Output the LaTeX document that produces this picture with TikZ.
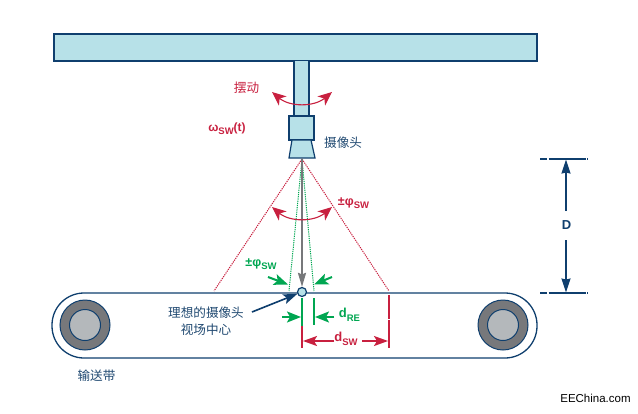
\documentclass[tikz,border=0pt]{standalone}
\usepackage{fontspec}
\setmainfont{Liberation Sans}
\newfontfamily\cjkfont{Noto Sans CJK SC}
\usepackage{xcolor}
\usetikzlibrary{arrows.meta,positioning,calc}
\definecolor{navyline}{HTML}{0F3F6E}
\definecolor{paleblue}{HTML}{B7E1E8}
\definecolor{swingred}{HTML}{C8203F}
\definecolor{fovgreen}{HTML}{00A651}
\definecolor{rollergray}{HTML}{77787B}
\definecolor{hubgray}{HTML}{B4B8BB}
\newcommand{\lowtext}[1]{\raisebox{-0.5ex}{\fontsize{9.5}{10}\selectfont #1}}

\begin{document}
\begin{tikzpicture}[
    x=1pt, y=-1pt,
    part/.style={rectangle, draw=navyline, fill=paleblue, line width=1.6pt, inner sep=0pt},
    roller/.style={circle, draw=navyline, fill=rollergray, line width=1pt, minimum size=50pt, inner sep=0pt},
    hub/.style={circle, draw=navyline, fill=hubgray, line width=1pt, minimum size=31pt, inner sep=0pt},
    cjklabel/.style={font=\cjkfont\fontsize{12.6}{17}\selectfont, text=navyline!85!gray, align=center, inner sep=0pt},
    redlabel/.style={font=\bfseries\fontsize{12}{14}\selectfont, text=swingred, inner sep=0pt},
    greenlabel/.style={font=\bfseries\fontsize{12}{14}\selectfont, text=fovgreen, inner sep=0pt},
    redarrow/.style={-{Stealth[length=14pt,width=10pt,inset=3pt]}, draw=swingred, fill=swingred, line width=1.8pt},
    greenarrow/.style={-{Stealth[length=14pt,width=11pt,inset=3pt]}, draw=fovgreen, fill=fovgreen, line width=2pt},
    swing/.style={{Stealth[length=14pt,width=12pt,inset=4pt]}-{Stealth[length=14pt,width=12pt,inset=4pt]}, draw=swingred, line width=1.1pt},
    reddots/.style={draw=swingred, line width=1pt, dash pattern=on 1.2pt off 1pt},
    greendots/.style={draw=fovgreen, line width=1pt, dash pattern=on 1.2pt off 1pt},
    tick/.style={line width=2pt},
    refline/.style={draw=navyline, line width=1.5pt, dash pattern=on 7pt off 1.5pt on 37pt off 1.5pt on 1pt off 0pt},
    distarrow/.style={-{Stealth[length=14pt,width=9pt,inset=1pt]}, draw=navyline, fill=navyline, line width=1.4pt}
]
    \useasboundingbox (0,0) rectangle (638,413);

    % Overhead beam and camera
    \node[part, minimum width=483pt, minimum height=27pt] (beam) at (295.5,47.5) {};
    \node[part, minimum width=15pt, minimum height=56pt] (column) at (301.5,88.5) {};
    \node[part, minimum width=25pt, minimum height=24pt] (body) at (301.5,128) {};
    \coordinate (lensA) at (292,140);
    \coordinate (lensB) at (311,140);
    \coordinate (lensC) at (315,158);
    \coordinate (lensD) at (289,158);
    \draw[draw=navyline, fill=paleblue, line width=1.2pt] (lensA) -- (lensB) -- (lensC) -- (lensD) -- cycle;
    \coordinate (apex) at (302,159);

    % Conveyor belt
    \node[rectangle, rounded corners=32pt, draw=navyline, line width=1.3pt, fill=white,
        minimum width=485pt, minimum height=65pt] (belt) at (294.5,325.5) {};
    \node[roller] (rollerL) at (85,325) {};
    \node[hub] (hubL) at (85,325) {};
    \node[roller] (rollerR) at (503,325) {};
    \node[hub] (hubR) at (503,325) {};

    % Field of view
    \coordinate (redL) at (214,291);
    \coordinate (redR) at (389,291);
    \coordinate (greenL) at (289,291);
    \coordinate (greenR) at (314,291);
    \draw[reddots] (apex) -- (redL);
    \draw[reddots] (apex) -- (redR);
    \draw[greendots] (apex) -- (greenL);
    \draw[greendots] (apex) -- (greenR);
    \node[circle, draw=navyline, fill=paleblue, line width=1.2pt, minimum size=9pt, inner sep=0pt] (spot) at (302,292) {};
    \draw[-{Stealth[length=14pt,width=8pt,inset=1.5pt]}, draw=rollergray, fill=rollergray, line width=2pt] (apex) -- (spot);

    % Swing arrows
    \coordinate (swingAL) at (272,92);
    \coordinate (swingAR) at (332,92);
    \coordinate (swingBL) at (272,207);
    \coordinate (swingBR) at (332,207);
    \draw[swing] (swingAL) to[bend right=40] (swingAR);
    \draw[swing] (swingBL) to[bend right=40] (swingBR);

    % Offset marks
    \coordinate (tickA) at (302,298);
    \coordinate (tickB) at (302,326);
    \coordinate (tickC) at (302,348);
    \coordinate (tickD) at (314,298);
    \coordinate (tickE) at (314,325);
    \coordinate (tickF) at (389,295);
    \coordinate (tickG) at (389,348);
    \draw[tick, draw=fovgreen] (tickA) -- (tickB);
    \draw[tick, draw=swingred] (tickB) -- (tickC);
    \draw[tick, draw=fovgreen] (tickD) -- (tickE);
    \draw[tick, draw=swingred, dash pattern=on 24pt off 1pt on 50pt] (tickF) -- (tickG);

    % Labels
    \node[redlabel, font=\cjkfont\fontsize{12.6}{14}\selectfont] (swinglabel) at (246.5,88) {摆动};
    \node[redlabel] (omega) at (227,129) {ω\lowtext{SW}(t)};
    \node[cjklabel, anchor=west] (camera) at (324,143) {摄像头};
    \node[redlabel, font=\bfseries\fontsize{12.5}{15}\selectfont] (phired) at (353.5,203) {±φ\lowtext{SW}};
    \node[greenlabel, font=\bfseries\fontsize{12.5}{15}\selectfont] (phigreen) at (261,264) {±φ\lowtext{SW}};
    \node[cjklabel, text width=90pt] (ideal) at (206,321.5) {理想的摄像头\\视场中心};
    \node[greenlabel, font=\bfseries\fontsize{13}{15}\selectfont] (dre) at (349.5,315) {d\lowtext{RE}};
    \node[redlabel, font=\bfseries\fontsize{13}{15}\selectfont] (dsw) at (346,339) {d\lowtext{SW}};
    \node[cjklabel] (belttext) at (96.5,376) {输送带};
    \node[font=\fontsize{11.5}{13}\selectfont, inner sep=0pt] (site) at (595.5,398) {EEChina.com};

    % Arrows
    \coordinate (greenA) at (268,277);
    \coordinate (greenB) at (288,284.5);
    \coordinate (greenC) at (332,277);
    \coordinate (greenD) at (314,284.5);
    \coordinate (greenE) at (282,317);
    \coordinate (greenF) at (301,317);
    \coordinate (greenG) at (334,317);
    \coordinate (greenH) at (315,317);
    \coordinate (redA) at (303,341);
    \coordinate (redB) at (388,341);
    \coordinate (redC) at (334,341);
    \coordinate (redD) at (362,341);
    \coordinate (navyA) at (252,312);
    \draw[greenarrow] (greenA) -- (greenB);
    \draw[greenarrow] (greenC) -- (greenD);
    \draw[greenarrow] (greenE) -- (greenF);
    \draw[greenarrow] (greenG) -- (greenH);
    \draw[redarrow] (redC) -- (redA);
    \draw[redarrow] (redD) -- (redB);
    \draw[-{Stealth[length=14pt,width=10pt,inset=3pt]}, draw=navyline, fill=navyline, line width=1.6pt] (navyA) -- (spot);

    % Height dimension
    \coordinate (refTL) at (540,159);
    \coordinate (refTR) at (588,159);
    \coordinate (refBL) at (540,293);
    \coordinate (refBR) at (588,293);
    \draw[refline] (refTL) -- (refTR);
    \draw[refline] (refBL) -- (refBR);
    \coordinate (refT) at (566,159.5);
    \coordinate (refB) at (566,292.5);
    \node[font=\bfseries\fontsize{13}{15}\selectfont, text=navyline, inner sep=0pt] (dist) at (566.5,225) {D};
    \coordinate (distT) at (566,211);
    \coordinate (distB) at (566,240);
    \draw[distarrow] (distT) -- (refT);
    \draw[distarrow] (distB) -- (refB);
\end{tikzpicture}
\end{document}
